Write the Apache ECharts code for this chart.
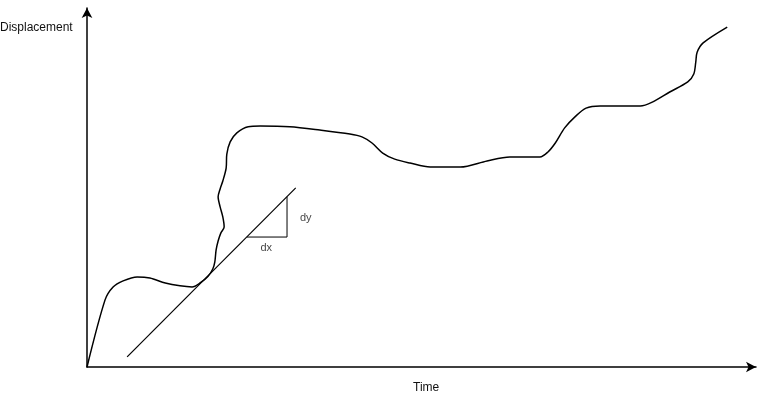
<!DOCTYPE html>
<html>
<head>
<meta charset="utf-8">
<script src="https://cdn.jsdelivr.net/npm/echarts@6/dist/echarts.min.js"></script>
<style>html,body{margin:0;padding:0;background:#fff;}#c{width:765px;height:398px;}</style>
</head>
<body>
<div id="c"></div>
<script>
// Displacement curve (time, displacement)
const curveTime = [0,0.27,0.39,0.54,0.75,0.94,1.17,1.39,1.57,1.69,1.81,1.88,1.91,1.93,1.96,2.00,2.05,2.03,1.99,1.96,1.99,2.03,2.08,2.09,2.14,2.24,2.41,2.59,3.03,3.48,3.93,4.11,4.26,4.42,4.60,4.83,5.13,5.58,5.98,6.32,6.77,6.89,7.00,7.14,7.29,7.46,7.67,8.27,8.45,8.71,8.98,9.07,9.10,9.12,9.21,9.57];
const curveDisp = [0,1.87,2.23,2.40,2.51,2.48,2.34,2.26,2.23,2.34,2.53,2.73,2.92,3.26,3.51,3.73,3.90,4.18,4.46,4.74,4.96,5.18,5.54,5.93,6.27,6.52,6.69,6.71,6.69,6.60,6.49,6.41,6.24,5.96,5.79,5.68,5.57,5.57,5.74,5.85,5.85,5.99,6.24,6.66,6.96,7.21,7.27,7.27,7.38,7.66,7.94,8.16,8.50,8.77,9.03,9.47];
// Tangent line
const tangentTime = [0.60, 3.12];
const tangentDisp = [0.28, 4.99];
// Slope triangle
const triTime = [2.39, 2.99, 2.99];
const triDisp = [3.62, 3.62, 4.74];
// Triangle labels
const labelText = ['dx', 'dy'];
const labelTime = [2.68, 3.27];
const labelDisp = [3.31, 4.15];

const zip = (a, b) => a.map((v, i) => [v, b[i]]);
const font = 'Liberation Sans, Arial, Helvetica, sans-serif';

const chart = echarts.init(document.getElementById('c'), null, {renderer: 'canvas'});
chart.setOption({
  animation: false,
  backgroundColor: '#fff',
  grid: {left: 87, right: 9, top: 8, bottom: 31},
  xAxis: {
    type: 'value', min: 0, max: 10,
    axisLine: {show: true, symbol: ['none', 'arrow'], symbolSize: [8, 10], lineStyle: {color: '#000', width: 1.5}},
    axisTick: {show: false}, axisLabel: {show: false}, splitLine: {show: false}
  },
  yAxis: {
    type: 'value', min: 0, max: 10,
    axisLine: {show: true, symbol: ['none', 'arrow'], symbolSize: [8, 10], lineStyle: {color: '#000', width: 1.5}},
    axisTick: {show: false}, axisLabel: {show: false}, splitLine: {show: false}
  },
  graphic: [
    {type: 'text', left: 0, top: 22, style: {text: 'Displacement', font: '12px ' + font, fill: '#111'}},
    {type: 'text', left: 413, top: 382, style: {text: 'Time', font: '12px ' + font, fill: '#111'}}
  ],
  series: [
    {
      type: 'line', data: zip(curveTime, curveDisp), smooth: 0.3, showSymbol: false,
      lineStyle: {color: '#000', width: 1.5}
    },
    {
      type: 'line', data: zip(tangentTime, tangentDisp), showSymbol: false,
      lineStyle: {color: '#000', width: 1.2}
    },
    {
      type: 'line', data: zip(triTime, triDisp), showSymbol: false,
      lineStyle: {color: '#000', width: 1}
    },
    {
      type: 'scatter', symbolSize: 0,
      data: labelText.map((t, i) => ({value: [labelTime[i], labelDisp[i]], name: t})),
      label: {show: true, position: 'inside', formatter: p => p.name, color: '#111', fontSize: 11, fontFamily: font}
    }
  ]
});
</script>
</body>
</html>
